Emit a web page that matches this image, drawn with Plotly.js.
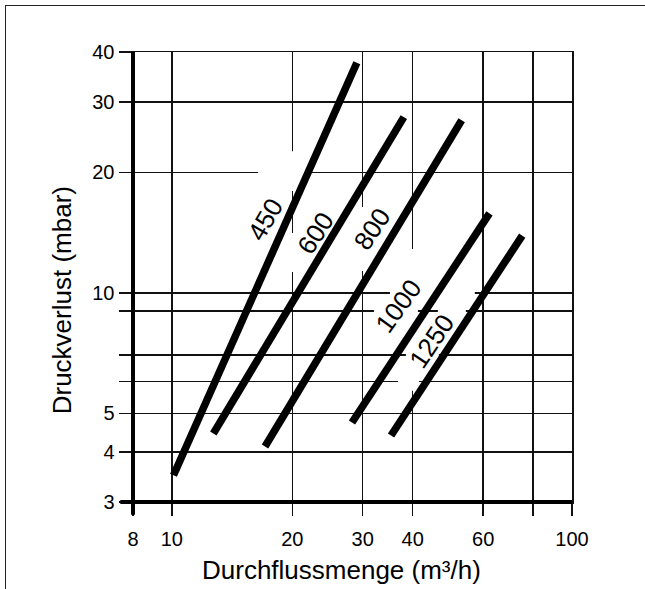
<!DOCTYPE html>
<html>
<head>
<meta charset="utf-8">
<script src="https://cdn.plot.ly/plotly-3.0.1.min.js"></script>
<style>
  html, body { margin: 0; padding: 0; background: #fff; overflow: hidden; }
  #wrap { position: relative; width: 645px; height: 589px; overflow: hidden; }
  #frame { position: absolute; left: 5px; top: 5px; width: 645px; height: 640px;
           border-left: 1.5px solid #222; border-top: 1.5px solid #222; box-sizing: border-box; pointer-events: none; z-index: 2; }
  #chart { position: absolute; left: 0; top: 0; width: 645px; height: 589px; }
</style>
</head>
<body>
<div id="wrap">
  <div id="chart"></div>
  <div id="frame"></div>
</div>
<script>
// ---- data ----
const seriesNames = ["450", "600", "800", "1000", "1250"];
const flow450 = [10.1, 29.0];   const loss450 = [3.5, 37.6];
const flow600 = [12.7, 38.0];   const loss600 = [4.45, 27.5];
const flow800 = [17.1, 53.0];   const loss800 = [4.13, 27.0];
const flow1000 = [28.2, 62.2];  const loss1000 = [4.74, 15.8];
const flow1250 = [35.3, 75.1];  const loss1250 = [4.40, 13.9];

// label anchor positions (data coords) and angles
const labelFlow = [17.1, 22.9, 31.7, 36.9, 44.7];
const labelLoss = [15.2, 14.1, 14.4, 9.25, 7.56];
const labelAngle = [-60, -57, -56, -54, -56];

const xTickVals = [8, 10, 20, 30, 40, 60, 80, 100];
const xTickText = ["8", "10", "20", "30", "40", "60", "", "100"];
const yTickVals = [3, 4, 5, 6, 7, 9, 10, 20, 30, 40];
const yTickText = ["3", "4", "5", "", "", "", "10", "20", "30", "40"];

const xTitle = "Durchflussmenge (m³/h)";
const yTitle = "Druckverlust (mbar)";

// ---- styling: white gaps in the grid (pixel boxes, painted under the curves) ----
const gridGapsPx = [
  [258, 311, 168, 176],
  [288, 297, 151, 191], [288, 297, 233, 272],
  [358, 368, 207, 271],
  [409, 418, 249, 391],
  [390, 475, 289, 297],
  [374, 417, 307, 315], [438, 466, 307, 315],
  [406, 439, 351, 359],
  [398, 419, 378, 386]
];
const XR = [Math.log10(8), 2], YR = [Math.log10(3), Math.log10(40)];
const PLOT = { l: 132.7, r: 572.3, t: 51.7, b: 502.3 };
const fx = px => (px - PLOT.l) / (PLOT.r - PLOT.l);
const fy = py => (PLOT.b - py) / (PLOT.b - PLOT.t);
const vx = px => Math.pow(10, XR[0] + fx(px) * (XR[1] - XR[0]));
const vy = py => Math.pow(10, YR[0] + fy(py) * (YR[1] - YR[0]));

// ---- build ----
const flows = [flow450, flow600, flow800, flow1000, flow1250];
const losses = [loss450, loss600, loss800, loss1000, loss1250];
const FONT = "Liberation Sans, Arial, sans-serif";

const maskX = [], maskY = [];
gridGapsPx.forEach(g => {
  maskX.push(vx(g[0]), vx(g[1]), vx(g[1]), vx(g[0]), vx(g[0]), null);
  maskY.push(vy(g[3]), vy(g[3]), vy(g[2]), vy(g[2]), vy(g[3]), null);
});
const gridMask = {
  type: "scatter", mode: "none", x: maskX, y: maskY,
  fill: "toself", fillcolor: "#ffffff", hoverinfo: "skip", showlegend: false, name: "grid gaps"
};

const traces = [gridMask].concat(seriesNames.map((n, i) => ({
  type: "scatter", mode: "lines", name: n,
  x: flows[i], y: losses[i],
  line: { color: "#000", width: 7.5 },
  hoverinfo: "skip"
})));

const annotations = seriesNames.map((n, i) => ({
  x: Math.log10(labelFlow[i]), y: Math.log10(labelLoss[i]),
  xref: "x", yref: "y", text: n, showarrow: false,
  textangle: labelAngle[i],
  font: { family: FONT, size: 26, color: "#000" }
}));
annotations.push({
  xref: "paper", yref: "paper", x: 0.474, y: -0.152, xanchor: "center", yanchor: "middle",
  text: xTitle, showarrow: false, font: { family: FONT, size: 26, color: "#000" }
});
annotations.push({
  xref: "paper", yref: "paper", x: -0.161, y: 0.449, xanchor: "center", yanchor: "middle",
  text: yTitle, showarrow: false, textangle: -90, font: { family: FONT, size: 26, color: "#000" }
});

const shapes = [
  // thick left axis, extending below the plot
  { type: "line", xref: "paper", yref: "paper", x0: 0, x1: 0, y0: fy(515), y1: 1,
    line: { color: "#000", width: 4 }, layer: "above" },
  // thick bottom axis, extending left of the plot
  { type: "line", xref: "paper", yref: "paper", x0: fx(120), x1: 1, y0: 0, y1: 0,
    line: { color: "#000", width: 4 }, layer: "above" }
];

const layout = {
  width: 645, height: 589,
  margin: { l: 133, r: 73, t: 52, b: 87 },
  paper_bgcolor: "#fff", plot_bgcolor: "#fff",
  showlegend: false,
  font: { family: FONT, color: "#000" },
  xaxis: {
    type: "log", range: XR,
    tickmode: "array", tickvals: xTickVals, ticktext: xTickText,
    showgrid: true, gridcolor: "#111", gridwidth: 1.5,
    ticks: "outside", ticklen: 12, tickwidth: 1.5, tickcolor: "#111",
    ticklabelstandoff: 6,
    tickfont: { family: FONT, size: 20, color: "#000" },
    showline: true, mirror: true, linecolor: "#111", linewidth: 1.5,
    zeroline: false, fixedrange: true
  },
  yaxis: {
    type: "log", range: YR,
    tickmode: "array", tickvals: yTickVals, ticktext: yTickText,
    showgrid: true, gridcolor: "#111", gridwidth: 1.5,
    ticks: "outside", ticklen: 13, tickwidth: 1.5, tickcolor: "#111",
    tickfont: { family: FONT, size: 20, color: "#000" },
    showline: true, mirror: true, linecolor: "#111", linewidth: 1.5,
    zeroline: false, fixedrange: true
  },
  annotations: annotations,
  shapes: shapes
};

Plotly.newPlot("chart", traces, layout, { staticPlot: true, displayModeBar: false });
</script>
</body>
</html>
